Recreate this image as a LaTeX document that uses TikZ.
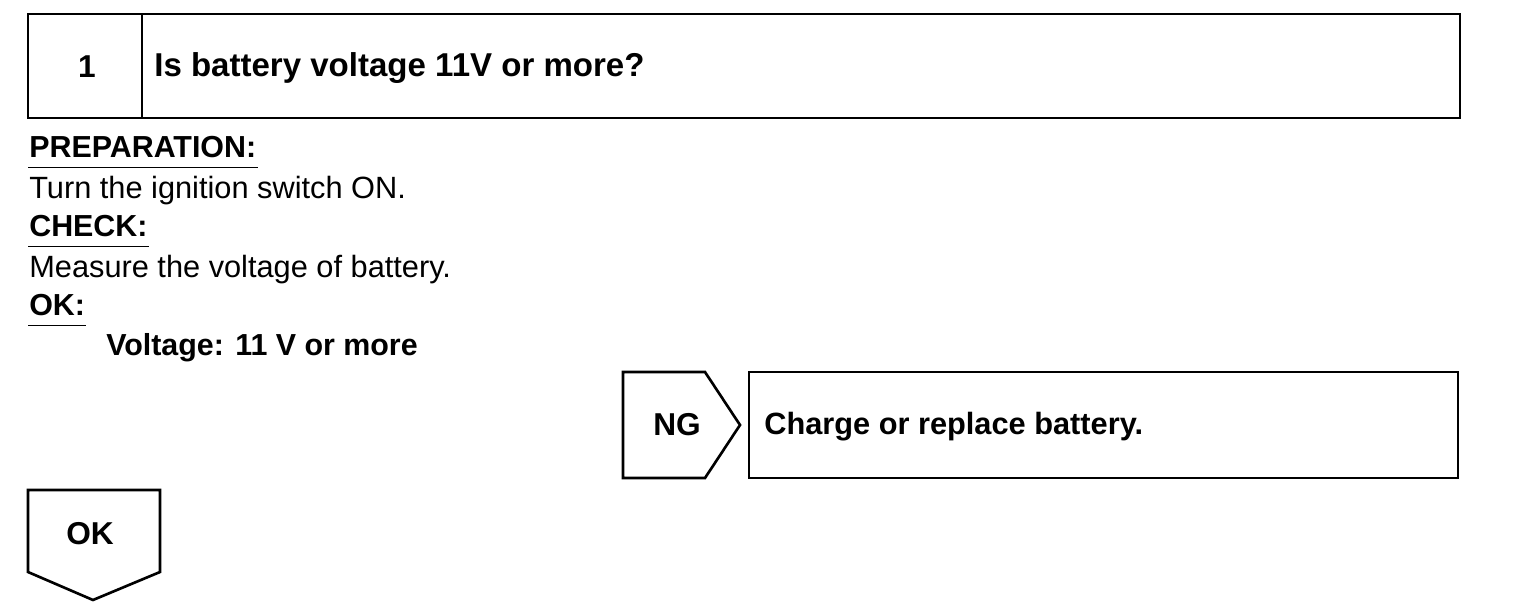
\documentclass[tikz,border=0pt]{standalone}
\usepackage{fontspec}
\setmainfont{Liberation Sans}
\usetikzlibrary{positioning}

\begin{document}
\begin{tikzpicture}[x=0.2mm, y=-0.2mm, line width=1.5pt, line join=miter,
  boxlabel/.style={font=\fontsize{18}{21}\selectfont\bfseries, inner sep=0pt},
  bodytext/.style={font=\fontsize{17.5}{20}\selectfont, anchor=base west, inner sep=0pt},
  headtext/.style={font=\fontsize{17.3}{20}\selectfont\bfseries, anchor=base west, inner sep=0pt},
  underline/.style={line width=0.9pt}]
  \useasboundingbox (0,0) rectangle (1536,614);

  % Step header
  \draw (28,14) rectangle (1460,118);
  \draw (142,14) -- (142,118);
  \node[boxlabel] (stepno) at (87,67) {1};
  \node[boxlabel, font=\fontsize{18.8}{22}\selectfont\bfseries, anchor=west] (question) at (153,68) {Is battery voltage 11V or more?};

  % Preparation / check / ok text
  \node[headtext] (prep) at (28,157) {PREPARATION:};
  \node[bodytext] (prepbody) at (28,198) {Turn the ignition switch ON.};
  \node[headtext] (check) at (28,236) {CHECK:};
  \node[bodytext] (checkbody) at (28,277) {Measure the voltage of battery.};
  \node[headtext] (ok) at (28,315) {OK:};
  \node[headtext] (okbody) at (105,355) {Voltage: 11 V or more};
  \foreach \n in {prep,check,ok}
    \draw[underline] ([yshift=-6pt]\n.base west) -- ([yshift=-6pt]\n.base east);

  % NG branch
  \draw (623,372) -- (705,372) -- (740,425) -- (705,478) -- (623,478) -- cycle;
  \node[boxlabel] (ng) at (677,425) {NG};
  \draw (749,372) rectangle (1458,478);
  \node[boxlabel, font=\fontsize{17.5}{21}\selectfont\bfseries, anchor=west] (repair) at (763,427) {Charge or replace battery.};

  % OK branch
  \draw (28,490) -- (160,490) -- (160,572) -- (93,600) -- (28,572) -- cycle;
  \node[boxlabel] (okexit) at (90,534) {OK};
\end{tikzpicture}
\end{document}
